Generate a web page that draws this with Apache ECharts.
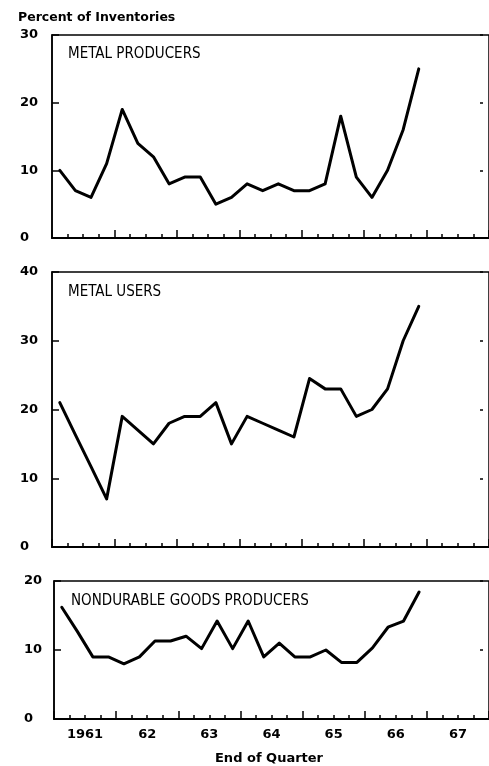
<!DOCTYPE html>
<html>
<head>
<meta charset="utf-8">
<script src="https://cdn.jsdelivr.net/npm/echarts@6/dist/echarts.min.js"></script>
<style>
  html, body { margin: 0; padding: 0; background: #fff; }
  #chart { width: 489px; height: 766px; }
</style>
</head>
<body>
<div id="chart"></div>
<script>
// year tick labels, one category per calendar year
const years = ['1961', '62', '63', '64', '65', '66', '67']
// values, one per quarter from 1961 Q1
const metalProducers = [10, 7, 6, 11, 19, 14, 12, 8, 9, 9, 5, 6, 8, 7, 8, 7, 7, 8, 18, 9, 6, 10, 16, 25]
const metalUsers = [21, 16.3, 11.7, 7, 19, 17, 15, 18, 19, 19, 21, 15, 19, 18, 17, 16, 24.5, 23, 23, 19, 20, 23, 30, 35]
const nondurable = [16.2, 12.7, 9, 9, 8, 9, 11.3, 11.3, 12, 10.2, 14.2, 10.2, 14.2, 9, 11, 9, 9, 10, 8.2, 8.2, 10.3, 13.3, 14.2, 18.4]
const panelNames = ['METAL PRODUCERS', 'METAL USERS', 'NONDURABLE GOODS PRODUCERS']
const yMax = [30, 40, 20]

const quarters = []
years.forEach(y => {
  for (let q = 1; q <= 4; q++) quarters.push(y + 'Q' + q)
})

const boldFont = 'DejaVu Sans'
const narrowFont = "'Liberation Sans Narrow', 'DejaVu Sans Condensed', sans-serif"

const grids = [
  { left: 52, top: 35, width: 442, height: 203 },
  { left: 52, top: 272, width: 442, height: 275 },
  { left: 54, top: 581, width: 442, height: 138 }
]
const panelData = [metalProducers, metalUsers, nondurable]
const titlePos = [[68, 47], [68, 285], [71, 594]]

const xAxis = []
const yAxis = []
const series = []

grids.forEach((g, i) => {
  g.show = true
  g.borderColor = '#000'
  g.borderWidth = 1.5
  // quarter axis: short ticks at every quarter
  xAxis.push({
    type: 'category',
    gridIndex: i,
    position: 'bottom',
    data: quarters,
    boundaryGap: true,
    axisLine: { show: true, onZero: false, lineStyle: { color: '#000', width: 2 } },
    axisTick: { show: true, inside: true, interval: 0, length: 4, lineStyle: { color: '#000', width: 1.5 } },
    axisLabel: { show: false },
    splitLine: { show: false }
  })
  // year axis: longer ticks at year ends, labels centred in the year
  xAxis.push({
    type: 'category',
    gridIndex: i,
    position: 'bottom',
    data: years,
    boundaryGap: true,
    axisLine: { show: false, onZero: false },
    axisTick: { show: true, inside: true, interval: 0, length: 8, lineStyle: { color: '#000', width: 1.5 } },
    axisLabel: {
      show: i === 2,
      interval: 0,
      margin: 9,
      color: '#000',
      fontFamily: boldFont,
      fontWeight: 'bold',
      fontSize: 13
    },
    splitLine: { show: false }
  })
  yAxis.push({
    type: 'value',
    gridIndex: i,
    position: 'left',
    min: 0,
    max: yMax[i],
    interval: 10,
    axisLine: { show: true, lineStyle: { color: '#000', width: 1.5 } },
    axisTick: { show: true, inside: true, length: 7, lineStyle: { color: '#000', width: 1.5 } },
    axisLabel: {
      align: 'left',
      margin: i === 2 ? 30 : 32,
      color: '#000',
      fontFamily: boldFont,
      fontWeight: 'bold',
      fontSize: 13
    },
    splitLine: { show: false }
  })
  yAxis.push({
    type: 'value',
    gridIndex: i,
    position: 'right',
    offset: -6,
    min: 0,
    max: yMax[i],
    interval: 10,
    axisLine: { show: false },
    axisTick: { show: true, inside: true, length: 3, lineStyle: { color: '#000', width: 1.5 } },
    axisLabel: { show: false },
    splitLine: { show: false }
  })
  series.push({
    type: 'line',
    name: panelNames[i],
    xAxisIndex: i * 2,
    yAxisIndex: i * 2,
    data: panelData[i],
    symbol: 'none',
    lineStyle: { color: '#000', width: 3, cap: 'round', join: 'round' },
    silent: true
  })
})

const titles = panelNames.map((name, i) => ({
  text: name,
  left: titlePos[i][0],
  top: titlePos[i][1],
  padding: 0,
  textStyle: { color: '#000', fontFamily: narrowFont, fontWeight: 'normal', fontSize: 15 }
}))
titles.push({
  text: 'Percent of Inventories',
  left: 18,
  top: 11,
  padding: 0,
  textStyle: { color: '#000', fontFamily: boldFont, fontWeight: 'bold', fontSize: 12.5 }
})
titles.push({
  text: 'End of Quarter',
  left: 269,
  top: 752,
  textAlign: 'center',
  padding: 0,
  textStyle: { color: '#000', fontFamily: boldFont, fontWeight: 'bold', fontSize: 13 }
})

const chart = echarts.init(document.getElementById('chart'), null, { renderer: 'canvas' })
chart.setOption({
  animation: false,
  backgroundColor: '#fff',
  title: titles,
  grid: grids,
  xAxis: xAxis,
  yAxis: yAxis,
  series: series
})
</script>
</body>
</html>
